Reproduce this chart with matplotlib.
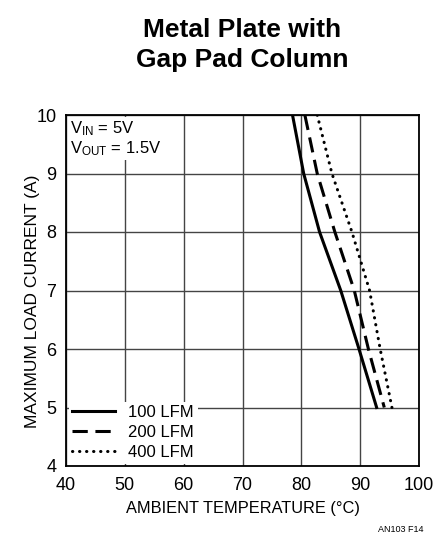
import numpy as np
import matplotlib.pyplot as plt

plt.rcParams['font.family'] = ['Liberation Sans', 'DejaVu Sans']

# data: current (A) vs ambient temperature (C)
current = [10, 9, 8, 7, 6, 5]
temp_100 = [78.5, 80.4, 83.1, 86.7, 89.8, 92.8]
temp_200 = [80.6, 82.7, 85.7, 89.0, 91.4, 94.1]
temp_400 = [82.7, 85.2, 88.6, 91.6, 93.4, 95.4]
labels = ['100 LFM', '200 LFM', '400 LFM']

fig = plt.figure(figsize=(4.41, 5.48), dpi=100)
ax = fig.add_axes([66/441, 1-466/548, 353/441, 351/548])

ax.plot(temp_100, current, color='black', lw=2.2, ls='-', label=labels[0], zorder=4)
ax.plot(temp_200, current, color='black', lw=2.2, ls=(0, (5, 2.5)), label=labels[1], zorder=4)
ax.plot(temp_400, current, color='black', lw=2.2, ls=(0, (0.1, 2.2)),
        dash_capstyle='round', label=labels[2], zorder=4)

ax.set_xlim(40, 100)
ax.set_ylim(4, 10)
ax.set_xticks(np.arange(40, 101, 10))
ax.set_yticks(np.arange(4, 11, 1))
ax.grid(True, color='#444444', lw=1.0, zorder=1)
ax.set_axisbelow(True)
ax.tick_params(length=0, labelsize=13)
ax.tick_params(axis='x', pad=8)
ax.tick_params(axis='y', pad=7)
for s in ax.spines.values():
    s.set_linewidth(1.3)

ax.set_xlabel('AMBIENT TEMPERATURE (°C)', fontsize=11.8)
ax.set_ylabel('MAXIMUM LOAD CURRENT (A)', fontsize=12.5)
ax.xaxis.set_label_coords(0.5, -0.1)
ax.yaxis.set_label_coords(-0.075, 0.47)

ax.text(40.6, 9.93, '$\\mathregular{V_{IN}}$ = 5V\n$\\mathregular{V_{OUT}}$ = 1.5V',
        fontsize=12, va='top', ha='left', linespacing=1.1,
        bbox=dict(facecolor='white', edgecolor='none', pad=1.5), zorder=3)

leg = ax.legend(loc='lower left', fontsize=12, frameon=True, handlelength=2.6,
                handletextpad=0.8, borderaxespad=0.15, borderpad=0.2,
                labelspacing=0.3, fancybox=False)
leg.get_frame().set_edgecolor('none')
leg.get_frame().set_facecolor('white')
leg.get_frame().set_alpha(1)
leg.set_zorder(3)

fig.text(242/441, 1-45/548, 'Metal Plate with\nGap Pad Column', fontsize=19,
         fontweight='bold', ha='center', va='center', linespacing=1.3)
fig.text(423/441, 1-530/548, 'AN103 F14', fontsize=6.5, ha='right', va='center')

fig.savefig('out.png', dpi=100)
